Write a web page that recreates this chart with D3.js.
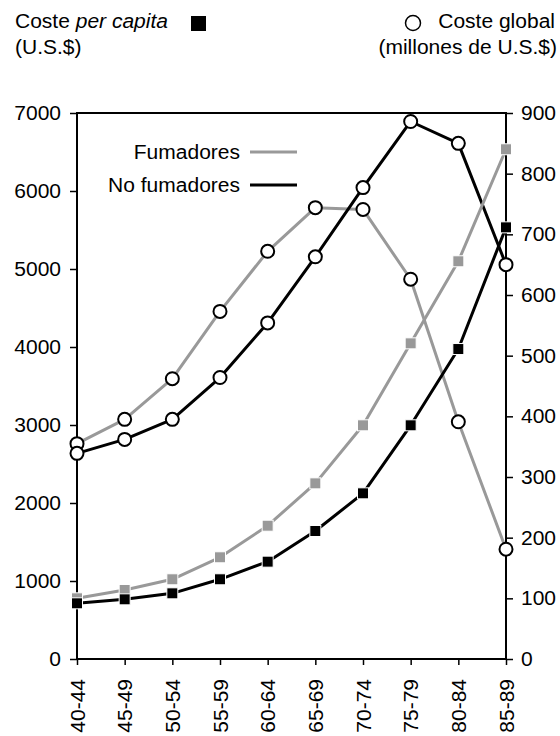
<!DOCTYPE html>
<html><head><meta charset="utf-8">
<script src="https://cdn.jsdelivr.net/npm/d3@7"></script>
<style>body{margin:0;background:#fff}svg{display:block;font-family:"Liberation Sans",Arial,sans-serif}</style>
</head><body><svg id="c" width="560" height="736"></svg>
<script>
const categories = ["40-44","45-49","50-54","55-59","60-64","65-69","70-74","75-79","80-84","85-89"];
const smokersPerCapita = [778, 885, 1022, 1304, 1709, 2252, 2996, 4047, 5099, 6535];
const nonSmokersPerCapita = [714, 765, 842, 1022, 1248, 1641, 2124, 2996, 3974, 5534];
const smokersGlobal = [355, 395, 462, 573, 672, 744, 741, 626, 391, 181];
const nonSmokersGlobal = [339, 362, 395, 464, 554, 663, 777, 886, 850, 650];
const leftTicks = [0,1000,2000,3000,4000,5000,6000,7000];
const rightTicks = [0,100,200,300,400,500,600,700,800,900];

const svg = d3.select("#c");
const L=77, R=506, T=113, B=659;
const FS = 20, STRETCH = 1.05;
const GRAY = "#999999";

const x = d3.scalePoint().domain(categories).range([L,R]).padding(0);
const yL = d3.scaleLinear().domain([0,7000]).range([B,T]);
const yR = d3.scaleLinear().domain([0,900]).range([B,T]);

function stretch(sel){
  sel.each(function(){
    const len = this.getComputedTextLength();
    this.setAttribute("textLength", len*STRETCH);
    this.setAttribute("lengthAdjust","spacingAndGlyphs");
  });
}

// axes
const axL = svg.append("g").attr("transform",`translate(${L},0)`)
  .call(d3.axisLeft(yL).tickValues(leftTicks).tickSize(7).tickPadding(9).tickFormat(d3.format("d")));
const axR = svg.append("g").attr("transform",`translate(${R},0)`)
  .call(d3.axisRight(yR).tickValues(rightTicks).tickSize(7).tickPadding(8).tickFormat(d3.format("d")));
const axB = svg.append("g").attr("transform",`translate(0,${B})`)
  .call(d3.axisBottom(x).tickSize(6).tickPadding(0));
[axL,axR,axB].forEach(a=>{
  a.select(".domain").remove();
  a.selectAll("line").attr("stroke","#000").attr("stroke-width",1.5);
  a.selectAll("text").attr("font-size",FS).attr("font-family","Liberation Sans, Arial, sans-serif").attr("fill","#000");
});
axB.selectAll("text")
  .attr("transform","rotate(-90)")
  .attr("text-anchor","end")
  .attr("x",-20).attr("y",0).attr("dy","0.36em");
axL.selectAll("text").call(stretch);
axR.selectAll("text").call(stretch);
axB.selectAll("text").call(stretch);

// frame
svg.append("rect").attr("x",L).attr("y",T).attr("width",R-L).attr("height",B-T)
  .attr("fill","none").attr("stroke","#000").attr("stroke-width",2);

const lineL = d3.line().x((d,i)=>x(categories[i])).y(d=>yL(d));
const lineR = d3.line().x((d,i)=>x(categories[i])).y(d=>yR(d));

const series = [
  {data:smokersGlobal, scale:yR, gen:lineR, color:GRAY, mark:"circle"},
  {data:nonSmokersGlobal, scale:yR, gen:lineR, color:"#000", mark:"circle"},
  {data:smokersPerCapita, scale:yL, gen:lineL, color:GRAY, mark:"square"},
  {data:nonSmokersPerCapita, scale:yL, gen:lineL, color:"#000", mark:"square"}
];
series.forEach(s=>{
  svg.append("path").datum(s.data).attr("d",s.gen).attr("fill","none")
    .attr("stroke",s.color).attr("stroke-width",3).attr("stroke-linejoin","round");
});
series.forEach(s=>{
  const g = svg.append("g");
  if(s.mark==="circle"){
    g.selectAll("circle").data(s.data).join("circle")
      .attr("cx",(d,i)=>x(categories[i])).attr("cy",d=>s.scale(d)).attr("r",6.5)
      .attr("fill","#fff").attr("stroke","#000").attr("stroke-width",2);
  } else {
    const sz=11;
    g.selectAll("rect").data(s.data).join("rect")
      .attr("x",(d,i)=>x(categories[i])-sz/2).attr("y",d=>s.scale(d)-sz/2)
      .attr("width",sz).attr("height",sz)
      .attr("fill",s.color).attr("stroke","#fff").attr("stroke-width",1);
  }
});

// legend
const legend = [{label:"Fumadores", color:GRAY, y:152},{label:"No fumadores", color:"#000", y:185}];
legend.forEach(l=>{
  svg.append("line").attr("x1",250).attr("x2",297).attr("y1",l.y).attr("y2",l.y)
    .attr("stroke",l.color).attr("stroke-width",3);
  svg.append("text").attr("x",240).attr("y",l.y+7).attr("text-anchor","end")
    .attr("font-size",FS).text(l.label).call(stretch);
});

// header labels
const t1 = svg.append("text").attr("x",15).attr("y",28).attr("font-size",FS);
t1.append("tspan").text("Coste ");
t1.append("tspan").attr("font-style","italic").text("per capita");
t1.call(stretch);
svg.append("text").attr("x",15).attr("y",54).attr("font-size",FS).text("(U.S.$)").call(stretch);
svg.append("rect").attr("x",191).attr("y",16).attr("width",15).attr("height",15).attr("fill","#000");

svg.append("circle").attr("cx",413).attr("cy",23).attr("r",7.5).attr("fill","#fff").attr("stroke","#000").attr("stroke-width",1.5);
svg.append("text").attr("x",555).attr("y",28).attr("text-anchor","end").attr("font-size",FS).text("Coste global").call(stretch);
svg.append("text").attr("x",557).attr("y",54).attr("text-anchor","end").attr("font-size",FS).text("(millones de U.S.$)").call(stretch);
</script></body></html>
